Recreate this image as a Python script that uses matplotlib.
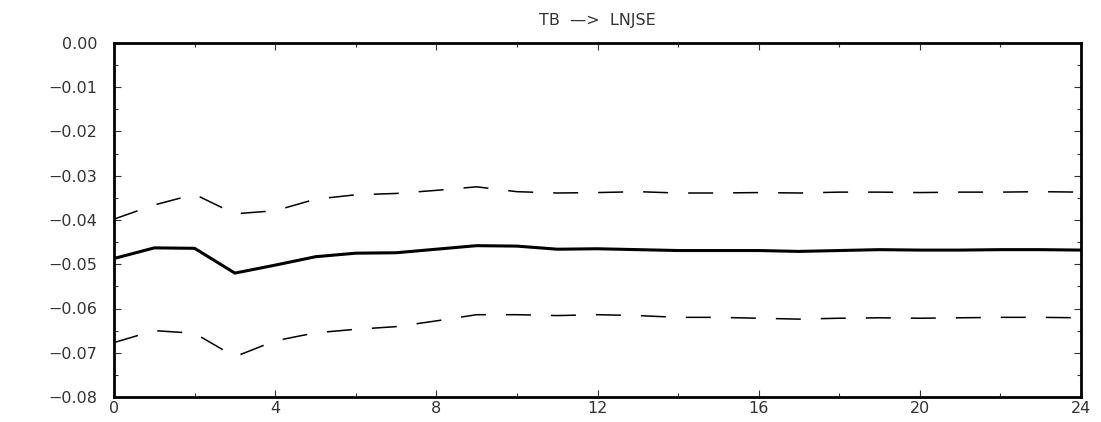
import matplotlib
matplotlib.use("Agg")
import matplotlib.pyplot as plt
from matplotlib.ticker import MultipleLocator, FuncFormatter

# Data
horizon = list(range(25))
response = [-0.0487, -0.0463, -0.0464, -0.0520, -0.0502, -0.0483, -0.0475, -0.0474,
            -0.0466, -0.0458, -0.0459, -0.0466, -0.0465, -0.0467, -0.0469, -0.0469,
            -0.0469, -0.0471, -0.0469, -0.0467, -0.0468, -0.0468, -0.0467, -0.0467,
            -0.0468]
upper_band = [-0.0398, -0.0366, -0.0342, -0.0386, -0.0379, -0.0353, -0.0343, -0.0340,
              -0.0333, -0.0325, -0.0336, -0.0339, -0.0338, -0.0336, -0.0339, -0.0339,
              -0.0338, -0.0339, -0.0337, -0.0337, -0.0338, -0.0337, -0.0337, -0.0336,
              -0.0337]
lower_band = [-0.0677, -0.0650, -0.0656, -0.0709, -0.0673, -0.0655, -0.0647, -0.0641,
              -0.0628, -0.0614, -0.0614, -0.0616, -0.0614, -0.0616, -0.0620, -0.0620,
              -0.0622, -0.0624, -0.0622, -0.0621, -0.0622, -0.0621, -0.0620, -0.0620,
              -0.0621]
title = "TB  \u2014>  LNJSE"

plt.rcParams['lines.scale_dashes'] = False
plt.rcParams['font.family'] = ['DejaVu Sans']

fig = plt.figure(figsize=(11.01, 4.22), dpi=100)
ax = fig.add_axes([114/1101, 25/422, (1081-114)/1101, (397-43)/422])

ax.plot(horizon, response, color='black', lw=2.2, solid_joinstyle='miter')
ax.plot(horizon, upper_band, color='black', lw=1.1, dashes=(18, 14.4))
ax.plot(horizon, lower_band, color='black', lw=1.1, dashes=(18, 14.4))

ax.set_xlim(0, 24)
ax.set_ylim(-0.08, 0.0)
ax.xaxis.set_major_locator(MultipleLocator(4))
ax.xaxis.set_minor_locator(MultipleLocator(2))
ax.yaxis.set_major_locator(MultipleLocator(0.01))
ax.yaxis.set_minor_locator(MultipleLocator(0.005))
ax.yaxis.set_major_formatter(FuncFormatter(lambda v, p: ("%.2f" % v).replace('-', '\u2212') if abs(v) > 1e-9 else "0.00"))
ax.xaxis.set_major_formatter(FuncFormatter(lambda v, p: "%d" % v))

ax.tick_params(which='both', direction='in', top=True, right=True, colors='#333333')
ax.tick_params(which='major', length=5, width=0.8, labelsize=11.5)
ax.tick_params(which='minor', length=3, width=0.8)
ax.tick_params(axis='y', which='major', pad=12)
ax.tick_params(axis='x', which='major', pad=3)
for s in ax.spines.values():
    s.set_linewidth(2.0)

fig.text((114+1081)/2/1101, 1 - 20/422, title, ha='center', va='center', fontsize=11.5, color='#333333')

fig.savefig('out.png', dpi=100)
